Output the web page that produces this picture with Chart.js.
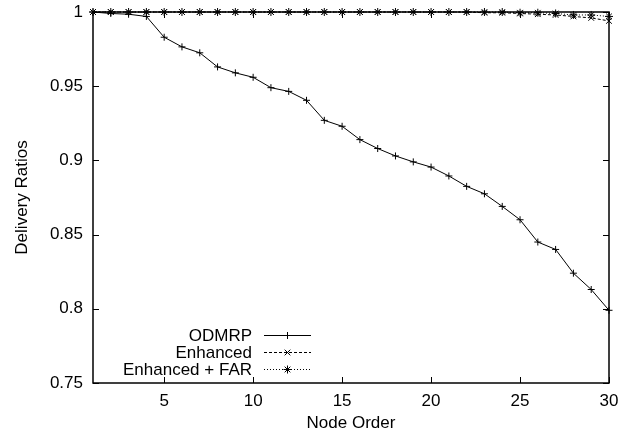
<!DOCTYPE html>
<html>
<head>
<meta charset="utf-8">
<script src="https://cdn.jsdelivr.net/npm/chart.js@4.4.0/dist/chart.umd.min.js"></script>
<style>
  html, body { margin: 0; padding: 0; background: #fff; }
  #wrap { width: 634px; height: 441px; }
</style>
</head>
<body>
<div id="wrap"><canvas id="myChart" width="634" height="441"></canvas></div>
<script>
// data
const nodeOrder = [1, 2, 3, 4, 5, 6, 7, 8, 9, 10, 11, 12, 13, 14, 15, 16, 17, 18, 19, 20, 21, 22, 23, 24, 25, 26, 27, 28, 29, 30];
const odmrp = [1.0, 0.999, 0.9985, 0.997, 0.983, 0.9765, 0.9725, 0.963, 0.959, 0.956, 0.949, 0.9465, 0.9405, 0.927, 0.923, 0.914, 0.908, 0.903, 0.899, 0.8955, 0.8895, 0.8825, 0.8775, 0.869, 0.860, 0.845, 0.840, 0.824, 0.813, 0.799];
const enhanced = [1.0, 1.0, 1.0, 1.0, 1.0, 1.0, 1.0, 1.0, 1.0, 1.0, 1.0, 1.0, 1.0, 1.0, 1.0, 1.0, 1.0, 1.0, 1.0, 1.0, 1.0, 1.0, 0.9995, 0.9995, 0.999, 0.9985, 0.998, 0.997, 0.996, 0.994];
const enhancedFar = [1.0, 1.0, 1.0, 1.0, 1.0, 1.0, 1.0, 1.0, 1.0, 1.0, 1.0, 1.0, 1.0, 1.0, 1.0, 1.0, 1.0, 1.0, 1.0, 1.0, 1.0, 1.0, 1.0, 1.0, 0.9995, 0.9995, 0.999, 0.998, 0.998, 0.997];
const xTicks = [5, 10, 15, 20, 25, 30];
const yTicks = [0.75, 0.8, 0.85, 0.9, 0.95, 1];

const FONT = "'Liberation Sans', Arial, sans-serif";

function toPoints(values) {
    return nodeOrder.map(function (n, i) { return { x: n, y: values[i] }; });
}

// box around the plot and gnuplot style inward ticks
const frameTicks = {
    id: 'frameTicks',
    afterDatasetsDraw: function (chart) {
        const ctx = chart.ctx;
        const a = chart.chartArea;
        const xs = chart.scales.x;
        const ys = chart.scales.y;
        const len = 6;
        ctx.save();
        ctx.strokeStyle = '#000';
        ctx.lineWidth = 1;
        ctx.beginPath();
        xTicks.forEach(function (v) {
            const px = Math.round(xs.getPixelForValue(v)) + 0.5;
            ctx.moveTo(px, a.bottom); ctx.lineTo(px, a.bottom - len);
            ctx.moveTo(px, a.top); ctx.lineTo(px, a.top + len);
        });
        yTicks.forEach(function (v) {
            const py = Math.round(ys.getPixelForValue(v)) + 0.5;
            ctx.moveTo(a.left, py); ctx.lineTo(a.left + len, py);
            ctx.moveTo(a.right, py); ctx.lineTo(a.right - len, py);
        });
        ctx.stroke();
        ctx.lineWidth = 1.5;
        ctx.strokeRect(a.left, a.top, a.right - a.left, a.bottom - a.top);
        ctx.restore();
    }
};

// legend inside the plot: right aligned text, sample on the right
const keyLegend = {
    id: 'keyLegend',
    afterDraw: function (chart) {
        const ctx = chart.ctx;
        const textRight = 252;
        const lineLeft = 264;
        const lineRight = 311;
        const rows = [335, 352, 369];
        ctx.save();
        ctx.font = '17px ' + FONT;
        ctx.fillStyle = '#000';
        ctx.textAlign = 'right';
        ctx.textBaseline = 'middle';
        chart.data.datasets.forEach(function (ds, i) {
            const y = rows[i];
            ctx.fillText(ds.label, textRight, y + 1);
            ctx.strokeStyle = '#000';
            ctx.lineWidth = 1;
            ctx.setLineDash(ds.borderDash || []);
            ctx.beginPath();
            ctx.moveTo(lineLeft, y + 0.5);
            ctx.lineTo(lineRight, y + 0.5);
            ctx.stroke();
            ctx.setLineDash([]);
            Chart.helpers.drawPoint(ctx, {
                pointStyle: ds.pointStyle,
                radius: ds.pointRadius,
                rotation: 0,
                borderWidth: 1
            }, (lineLeft + lineRight) / 2, y + 0.5);
        });
        ctx.restore();
    }
};

new Chart(document.getElementById('myChart'), {
    type: 'line',
    data: {
        datasets: [{
            label: 'ODMRP',
            data: toPoints(odmrp),
            borderColor: '#000',
            backgroundColor: '#000',
            borderWidth: 1,
            pointStyle: 'cross',
            pointRadius: 3.5,
            pointBorderWidth: 1,
            fill: false
        }, {
            label: 'Enhanced',
            data: toPoints(enhanced),
            borderColor: '#000',
            backgroundColor: '#000',
            borderWidth: 1,
            borderDash: [3, 2],
            pointStyle: 'crossRot',
            pointRadius: 4,
            pointBorderWidth: 1,
            fill: false
        }, {
            label: 'Enhanced + FAR',
            data: toPoints(enhancedFar),
            borderColor: '#000',
            backgroundColor: '#000',
            borderWidth: 1,
            borderDash: [1, 2],
            pointStyle: 'star',
            pointRadius: 4,
            pointBorderWidth: 1,
            fill: false
        }]
    },
    options: {
        responsive: false,
        animation: false,
        clip: false,
        layout: { padding: { left: 0, right: 25, top: 12, bottom: 0 } },
        plugins: {
            legend: { display: false },
            tooltip: { enabled: false }
        },
        scales: {
            x: {
                type: 'linear',
                min: 1,
                max: 30,
                afterBuildTicks: function (scale) {
                    scale.ticks = xTicks.map(function (v) { return { value: v }; });
                },
                afterFit: function (scale) { scale.height = 58; },
                grid: { display: false, drawTicks: false },
                border: { display: false },
                ticks: {
                    color: '#000',
                    font: { family: FONT, size: 17 },
                    padding: 8,
                    maxRotation: 0,
                    callback: function (v) { return String(v); }
                },
                title: {
                    display: true,
                    text: 'Node Order',
                    color: '#000',
                    font: { family: FONT, size: 17 },
                    padding: { top: 2, bottom: 7 }
                }
            },
            y: {
                type: 'linear',
                min: 0.75,
                max: 1,
                afterBuildTicks: function (scale) {
                    scale.ticks = yTicks.map(function (v) { return { value: v }; });
                },
                afterFit: function (scale) { scale.width = 93; },
                grid: { display: false, drawTicks: false },
                border: { display: false },
                ticks: {
                    color: '#000',
                    // small lineHeight keeps the label overhang from pushing the plot down
                    font: { family: FONT, size: 17, lineHeight: 0.1 },
                    padding: 10,
                    callback: function (v) { return String(+v.toFixed(2)); }
                },
                title: {
                    display: true,
                    text: 'Delivery Ratios',
                    color: '#000',
                    font: { family: FONT, size: 17 },
                    padding: { top: 12, bottom: 0 }
                }
            }
        }
    },
    plugins: [frameTicks, keyLegend]
});
</script>
</body>
</html>
